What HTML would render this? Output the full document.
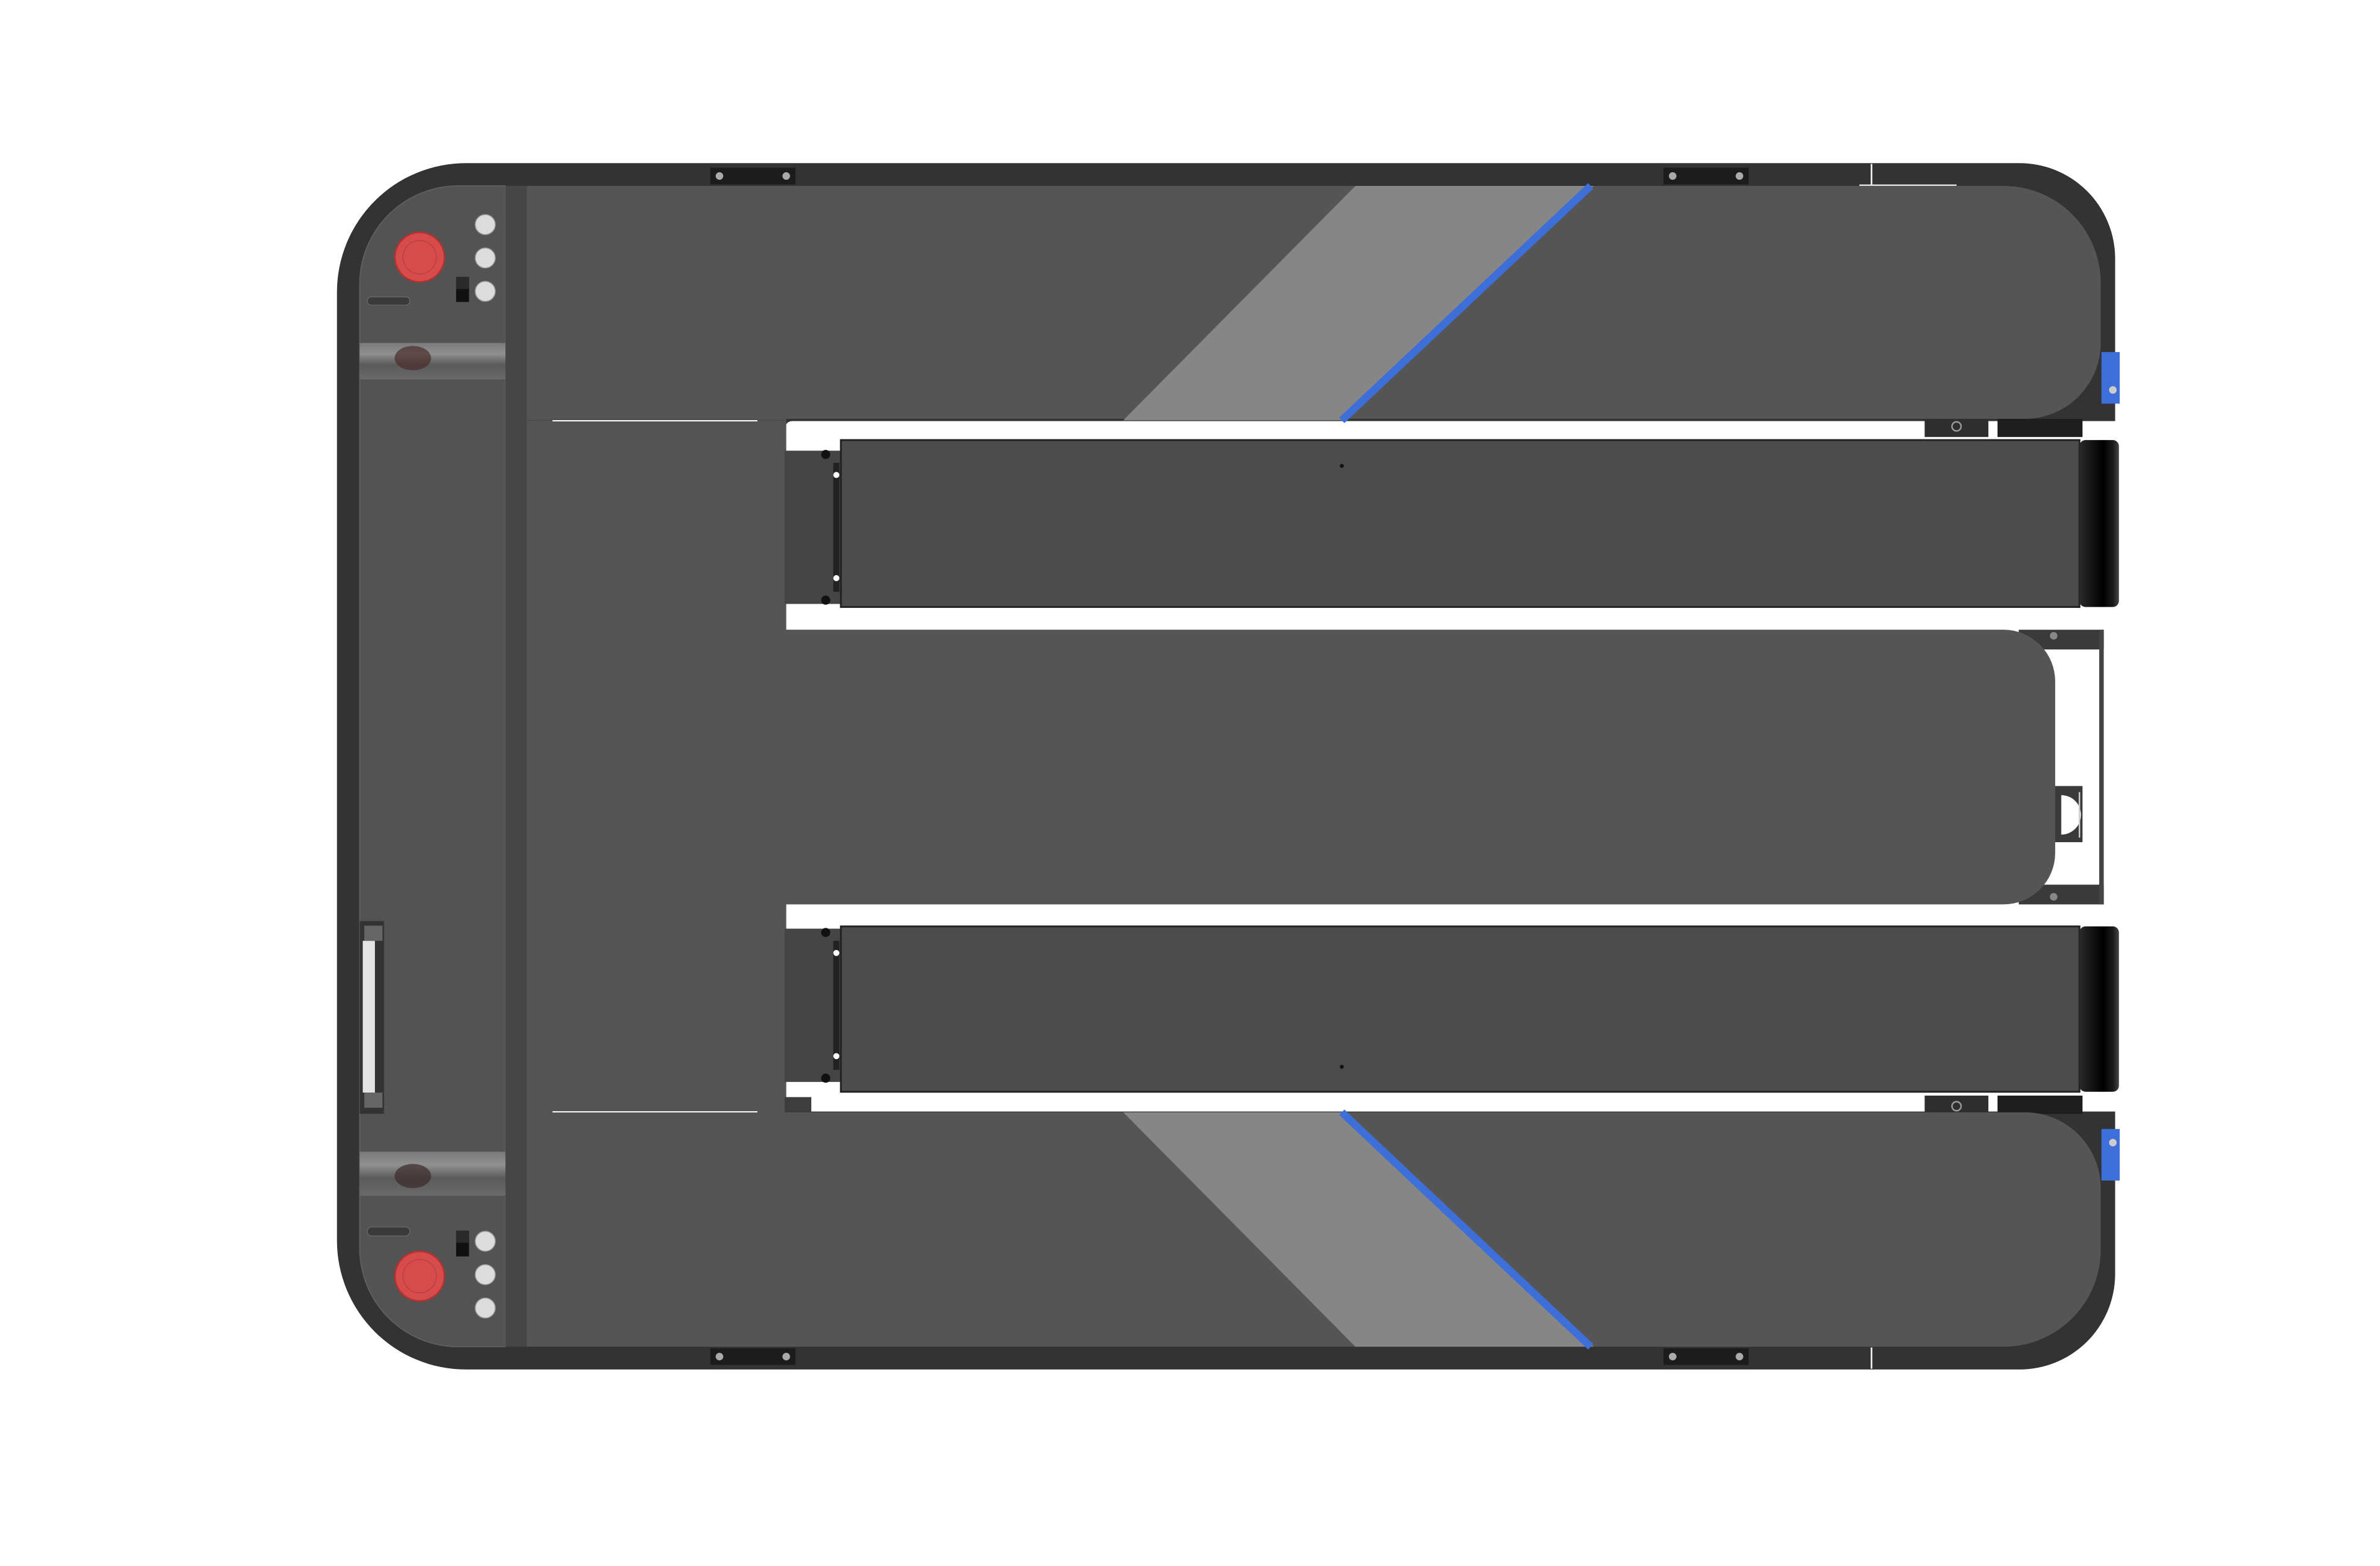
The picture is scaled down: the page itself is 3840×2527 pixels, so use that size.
<!DOCTYPE html>
<html><head><meta charset="utf-8"><style>html,body{margin:0;padding:0;background:#fff}svg{display:block}</style></head><body>
<svg width="3840" height="2527" viewBox="0 0 1568 1032" preserveAspectRatio="none" xmlns="http://www.w3.org/2000/svg">
<defs>
<linearGradient id="cap" x1="0" x2="1" y1="0" y2="0"><stop offset="0" stop-color="#2a2a2a"/><stop offset="0.35" stop-color="#111"/><stop offset="0.6" stop-color="#000"/><stop offset="0.85" stop-color="#1a1a1a"/><stop offset="1" stop-color="#444"/></linearGradient>
<linearGradient id="band" x1="0" x2="0" y1="0" y2="1"><stop offset="0" stop-color="#7a7a7a"/><stop offset="0.3" stop-color="#909090"/><stop offset="0.6" stop-color="#5a5a5a"/><stop offset="1" stop-color="#6a6a6a"/></linearGradient>
</defs>
<rect width="1568" height="1032" fill="#fff"/>
<!-- outer frame -->
<path d="M307,107.5 H1330 A63,63 0 0 1 1393.5,170 V840 A63,63 0 0 1 1330,902.5 H307 A85,85 0 0 1 222,817.5 V192.5 A85,85 0 0 1 307,107.5 Z" fill="#333"/>
<line x1="1233" y1="108" x2="1233" y2="122" stroke="#fff" stroke-width="1"/>
<line x1="1225" y1="122" x2="1289" y2="122" stroke="#fff" stroke-width="0.8"/>
<line x1="1233" y1="888" x2="1233" y2="902" stroke="#fff" stroke-width="1"/>
<!-- white cutout -->
<rect x="517" y="277.5" width="890" height="455" rx="5" fill="#fff"/>
<!-- under-section bits -->
<rect x="1268" y="276" width="42" height="12" fill="#2e2e2e"/><rect x="1316" y="276" width="56" height="12" fill="#1e1e1e"/>
<circle cx="1289" cy="281" r="3" fill="none" stroke="#999" stroke-width="1"/>
<rect x="1268" y="722" width="42" height="12" fill="#2e2e2e"/><rect x="1316" y="722" width="56" height="12" fill="#1e1e1e"/>
<circle cx="1289" cy="729" r="3" fill="none" stroke="#999" stroke-width="1"/>
<!-- top section panel -->
<path d="M347,122.5 H1320 A64,64 0 0 1 1384,186.5 V226 A50,50 0 0 1 1334,276 H347 Z" fill="#555"/>
<!-- bottom section panel -->
<path d="M347,733 H1334 A50,50 0 0 1 1384,783 V823 A64,64 0 0 1 1320,887.5 H347 Z" fill="#555"/>
<!-- stripes -->
<polygon points="740,277 893,122.5 1050,122.5 886,277" fill="#868686"/>
<line x1="1048" y1="122.5" x2="884" y2="277" stroke="#3e6fd8" stroke-width="5"/>
<polygon points="740,733 893,887.5 1050,887.5 886,733" fill="#868686"/>
<line x1="1048" y1="887.5" x2="884" y2="733" stroke="#3e6fd8" stroke-width="5"/>
<!-- middle area -->
<rect x="347" y="276" width="171" height="458" fill="#545454"/>
<line x1="347" y1="277" x2="517" y2="277" stroke="#4a4a4a" stroke-width="0.6"/>
<line x1="364" y1="277.3" x2="499" y2="277.3" stroke="#fff" stroke-width="0.8"/>
<line x1="364" y1="732.7" x2="499" y2="732.7" stroke="#fff" stroke-width="0.8"/>
<rect x="517" y="723" width="17.5" height="10" fill="#3d3d3d"/>
<!-- right bracket behind center band -->
<rect x="1330" y="415" width="56" height="13" fill="#3a3a3a"/>
<rect x="1330" y="583" width="56" height="13" fill="#3a3a3a"/>
<rect x="1383" y="415" width="3" height="181" fill="#444"/>
<rect x="1340" y="518" width="32" height="37" fill="#3a3a3a"/>
<path d="M1358,524 A12,12 0 0 1 1358,550 Z" fill="#fff"/>
<line x1="1370" y1="522" x2="1370" y2="552" stroke="#ccc" stroke-width="1"/>
<circle cx="1353" cy="419" r="2.5" fill="#888"/><circle cx="1353" cy="591" r="2.5" fill="#888"/>
<!-- center band -->
<path d="M517,415 H1320 A34,34 0 0 1 1354,449 V562 A34,34 0 0 1 1320,596 H517 Z" fill="#555"/>
<!-- left column -->
<path d="M302,122.5 H333 V887.5 H302 A65,65 0 0 1 237,822.5 V187.5 A65,65 0 0 1 302,122.5 Z" fill="#535353" stroke="#5e5e5e" stroke-width="0.8"/>
<rect x="333" y="122.5" width="14" height="765" fill="#474747"/>
<!-- handle bands -->
<rect x="237" y="226" width="96" height="24" fill="url(#band)"/>
<ellipse cx="272" cy="236" rx="12" ry="8" fill="#4a2b2b" opacity="0.7"/>
<rect x="237" y="759" width="96" height="29" fill="url(#band)"/>
<ellipse cx="272" cy="775" rx="12" ry="8" fill="#3a2b2b" opacity="0.7"/>
<!-- side handle -->
<rect x="237" y="607" width="16" height="127" fill="#333"/>
<rect x="239" y="620" width="8" height="100" fill="#e4e4e4"/>
<rect x="240" y="610" width="12" height="10" fill="#666"/><rect x="240" y="720" width="12" height="10" fill="#666"/>
<!-- slots -->
<rect x="242" y="195.6" width="28" height="5.5" rx="2.7" fill="#3a3a3a" stroke="#666" stroke-width="0.6"/>
<rect x="242" y="808.5" width="28" height="6" rx="3" fill="#3a3a3a" stroke="#666" stroke-width="0.6"/>
<!-- buttons -->
<circle cx="276.5" cy="169.5" r="16.3" fill="#d84b4b" stroke="#b83030" stroke-width="1"/>
<circle cx="276.5" cy="169.5" r="11" fill="none" stroke="#b94040" stroke-width="0.6"/>
<circle cx="276.5" cy="841" r="16.3" fill="#d84b4b" stroke="#b83030" stroke-width="1"/>
<circle cx="276.5" cy="841" r="11" fill="none" stroke="#b94040" stroke-width="0.6"/>
<g fill="#dcdcdc" stroke="#999" stroke-width="0.6">
<circle cx="319.7" cy="148" r="6.6"/><circle cx="319.7" cy="170" r="6.6"/><circle cx="319.7" cy="192" r="6.6"/>
<circle cx="319.7" cy="818" r="6.6"/><circle cx="319.7" cy="840" r="6.6"/><circle cx="319.7" cy="862" r="6.6"/>
</g>
<rect x="300.5" y="182.5" width="8.5" height="16.5" fill="#111"/><rect x="300.5" y="182.5" width="8.5" height="8" fill="#2a2a2a"/>
<rect x="300.5" y="811" width="8.5" height="17" fill="#111"/><rect x="300.5" y="811" width="8.5" height="8" fill="#2a2a2a"/>
<!-- tabs -->
<g fill="#1c1c1c"><rect x="468" y="110.5" width="56" height="11"/><rect x="1096" y="110.5" width="56" height="11"/>
<rect x="468" y="888.5" width="56" height="11"/><rect x="1096" y="888.5" width="56" height="11"/></g>
<g fill="#aaa"><circle cx="474" cy="116" r="2.5"/><circle cx="518" cy="116" r="2.5"/><circle cx="1102" cy="116" r="2.5"/><circle cx="1146" cy="116" r="2.5"/>
<circle cx="474" cy="894" r="2.5"/><circle cx="518" cy="894" r="2.5"/><circle cx="1102" cy="894" r="2.5"/><circle cx="1146" cy="894" r="2.5"/></g>
<!-- blue clips -->
<rect x="1384.5" y="232" width="12" height="34" fill="#3e6fd8"/><circle cx="1392" cy="257" r="2.5" fill="#ccc"/>
<rect x="1384.5" y="744" width="12" height="34" fill="#3e6fd8"/><circle cx="1392" cy="753" r="2.5" fill="#ccc"/>
<!-- fork 1 -->
<rect x="517" y="297" width="37" height="101" fill="#454545"/>
<rect x="549" y="305" width="4" height="85" fill="#222"/>
<circle cx="544" cy="299.5" r="3" fill="#111"/><circle cx="544" cy="395.5" r="3" fill="#111"/>
<circle cx="551" cy="313" r="2" fill="#fff"/><circle cx="551" cy="381" r="2" fill="#fff"/>
<rect x="554" y="290" width="816" height="110" fill="#4b4b4b" stroke="#222" stroke-width="1.2"/>
<circle cx="884" cy="307" r="1.3" fill="#111"/>
<rect x="1370" y="290" width="26" height="110" rx="4" fill="url(#cap)"/>
<!-- fork 2 -->
<rect x="517" y="612" width="37" height="101" fill="#454545"/>
<rect x="549" y="620" width="4" height="85" fill="#222"/>
<circle cx="544" cy="614.5" r="3" fill="#111"/><circle cx="544" cy="710.5" r="3" fill="#111"/>
<circle cx="551" cy="628" r="2" fill="#fff"/><circle cx="551" cy="696" r="2" fill="#fff"/>
<rect x="554" y="610.5" width="816" height="109" fill="#4b4b4b" stroke="#222" stroke-width="1.2"/>
<circle cx="884" cy="703" r="1.3" fill="#111"/>
<rect x="1370" y="610.5" width="26" height="109" rx="4" fill="url(#cap)"/>
</svg>
</body></html>
